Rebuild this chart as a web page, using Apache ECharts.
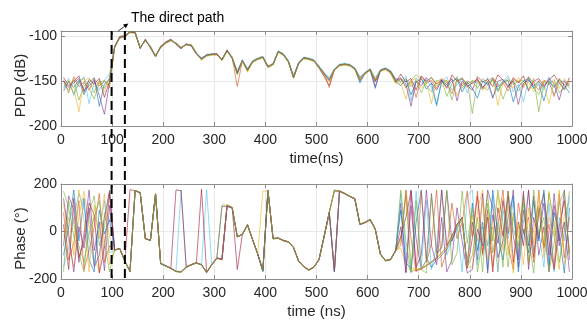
<!DOCTYPE html>
<html>
<head>
<meta charset="utf-8">
<script src="https://cdn.jsdelivr.net/npm/echarts@6/dist/echarts.min.js"></script>
<style>html,body{margin:0;padding:0;background:#fff}#c{width:587px;height:322px}</style>
</head>
<body>
<div id="c"></div>
<script>
// ---------- data ----------
const timeNs = [5,15,25,35,45,55,65,75,85,95,105,115,125,135,145,155,165,175,185,195,205,215,225,235,245,255,265,275,285,295,305,315,325,335,345,355,365,375,385,395,405,415,425,435,445,455,465,475,485,495,505,515,525,535,545,555,565,575,585,595,605,615,625,635,645,655,665,675,685,695,705,715,725,735,745,755,765,775,785,795,805,815,825,835,845,855,865,875,885,895,905,915,925,935,945,955,965,975,985,995];

// PDP (dB), one array per measured profile
const pdp1 = [-152,-160,-148,-171,-155,-150,-163,-149,-158,-146,
-111,-101,-100,-95,-96,-113,-104,-112,-123,-112,-107,-104,-108,-113,-109,-110,-119,-126,-122,-121,
-120,-127,-117,-125,-142,-128,-139,-129,-126,-124,-135,-132,-118,-121,-129,-147,-131,-125,-126,-128,
-136,-144,-150,-138,-133,-132,-133,-137,-150,-142,-138,-151,-139,-137,-141,-152,
-146,-158,-149,-143,-147,-155,-162,-150,-148,-167,-153,-145,-158,-151,-186,-149,-156,-160,-147,-152,-170,-155,-149,-161,-153,-146,-158,-165,-150,-154,-148,-163,-157,-151];
const pdp2 = [-158,-147,-166,-152,-145,-175,-151,-160,-149,-142,
-113,-102,-100,-96,-96,-112,-105,-111,-121,-113,-108,-105,-107,-112,-110,-109,-118,-124,-120,-119,
-121,-125,-116,-123,-138,-126,-136,-127,-124,-122,-133,-130,-116,-119,-127,-143,-129,-123,-124,-126,
-133,-140,-146,-136,-131,-130,-131,-135,-145,-140,-136,-146,-137,-135,-138,-147,
-150,-144,-172,-146,-152,-148,-157,-178,-151,-145,-160,-154,-147,-163,-149,-152,-158,-146,-168,-155,-150,-144,-162,-153,-173,-148,-156,-151,-160,-145,-165,-152,-149,-158];
const pdp3 = [-146,-155,-150,-144,-162,-148,-153,-147,-168,-150,
-112,-100,-99,-95,-95,-114,-103,-113,-122,-111,-106,-103,-109,-114,-108,-111,-120,-125,-121,-120,
-119,-126,-115,-124,-141,-127,-138,-128,-125,-123,-134,-131,-117,-120,-128,-146,-130,-124,-125,-127,
-135,-145,-155,-137,-132,-131,-132,-136,-149,-141,-137,-150,-138,-136,-140,-151,
-142,-151,-147,-160,-144,-150,-146,-153,-149,-158,-143,-150,-147,-155,-160,-145,-151,-148,-156,-143,-149,-157,-146,-152,-144,-161,-150,-147,-155,-149,-143,-152,-159,-146];
const pdp4 = [-161,-150,-157,-149,-165,-152,-146,-178,-153,-148,
-111,-101,-100,-95,-96,-113,-104,-112,-122,-112,-107,-104,-108,-113,-109,-110,-119,-125,-121,-120,
-120,-126,-116,-124,-140,-127,-137,-128,-125,-123,-134,-131,-117,-120,-128,-145,-130,-124,-125,-127,
-134,-142,-149,-137,-132,-131,-132,-136,-152,-141,-137,-158,-138,-136,-139,-150,
-155,-148,-165,-151,-147,-159,-152,-176,-149,-156,-150,-147,-162,-151,-158,-169,-150,-154,-147,-160,-151,-149,-173,-156,-150,-147,-158,-153,-172,-150,-157,-148,-155,-163];
const pdp5 = [-149,-163,-145,-156,-151,-160,-147,-155,-150,-157,
-112,-101,-100,-95,-96,-113,-104,-112,-122,-112,-107,-104,-108,-113,-109,-110,-119,-125,-121,-120,
-120,-126,-116,-124,-156,-127,-138,-128,-125,-123,-133,-131,-117,-120,-128,-146,-130,-124,-125,-127,
-134,-141,-157,-137,-132,-131,-132,-136,-148,-141,-137,-149,-138,-136,-140,-150,
-148,-156,-150,-168,-145,-152,-149,-158,-147,-151,-164,-148,-155,-150,-153,-147,-159,-150,-146,-156,-152,-161,-148,-150,-157,-145,-153,-160,-149,-151,-167,-147,-154,-150];
const pdp6 = [-153,-149,-158,-184,-150,-146,-156,-151,-162,-147,
-113,-102,-101,-96,-97,-112,-105,-111,-121,-113,-108,-105,-107,-112,-110,-109,-118,-127,-122,-121,
-121,-125,-117,-123,-139,-128,-140,-129,-126,-124,-134,-132,-118,-121,-129,-144,-131,-125,-126,-128,
-135,-143,-151,-138,-133,-132,-133,-137,-148,-142,-138,-147,-139,-137,-142,-153,
-152,-170,-149,-147,-158,-151,-175,-149,-156,-151,-148,-166,-152,-157,-150,-149,-160,-155,-148,-177,-152,-150,-158,-146,-155,-151,-162,-149,-153,-175,-150,-158,-147,-156];
const pdp7 = [-150,-157,-152,-147,-160,-155,-149,-166,-187,-151,
-112,-101,-100,-95,-96,-113,-104,-112,-122,-112,-107,-104,-108,-113,-109,-110,-119,-125,-121,-120,
-120,-126,-116,-124,-141,-127,-137,-128,-125,-123,-134,-131,-117,-120,-128,-145,-130,-124,-125,-127,
-134,-142,-148,-137,-132,-131,-132,-136,-146,-141,-137,-156,-138,-136,-139,-148,
-147,-153,-178,-150,-155,-146,-152,-160,-149,-154,-147,-172,-150,-156,-152,-148,-157,-151,-169,-150,-148,-155,-150,-176,-152,-149,-155,-150,-157,-147,-153,-171,-150,-155];
const pdp8 = [-156,-151,-164,-150,-147,-158,-170,-152,-149,-155,
-111,-100,-100,-95,-95,-113,-104,-112,-123,-111,-107,-104,-108,-113,-109,-110,-119,-126,-121,-120,
-120,-127,-116,-124,-143,-127,-138,-128,-125,-123,-134,-131,-117,-120,-128,-146,-130,-124,-125,-127,
-134,-141,-147,-137,-132,-131,-132,-136,-147,-141,-137,-148,-138,-136,-139,-149,
-151,-147,-156,-149,-163,-150,-146,-155,-152,-149,-171,-150,-146,-153,-150,-158,-147,-152,-149,-162,-151,-147,-154,-150,-149,-159,-147,-184,-152,-150,-156,-149,-160,-152];

// Phase (degrees), one array per measured profile
const phase1 = [120,-40,-150,60,170,30,-110,-170,80,-20,
-79,-71,-126,-169,173,164,-31,-38,160,-133,
-146,-156,-169,-171,-151,-141,-133,-141,-173,-141,
-113,-119,112,101,-24,-14,27,-36,-96,-166,
174,-31,-29,-39,-45,-68,-126,-149,-163,-151,
-119,-22,78,-164,171,161,149,139,31,39,
51,11,-96,-124,-119,-82,
-45,170,-150,-160,-158,-142,-128,-112,-92,-65,-25,25,55,-150,
-150,90,175,-60,20,-170,140,-100,60,-30,160,-140,10,110,-80,170,-20,-160,70,130];
const phase2 = [-60,150,90,-130,-10,175,-80,40,-165,110,
-77,-73,-124,-167,171,162,-29,-36,157,-137,
-144,-154,-167,-169,-149,-139,-131,-139,-171,-139,
-111,105,106,99,-21,-11,29,-34,-94,-164,
171,-29,-27,-37,-43,-66,-124,-147,-161,-149,
-117,-18,82,170,169,159,147,137,29,37,
49,9,-94,-122,-117,-79,
120,-170,175,-30,-160,-120,160,-90,-70,170,-40,30,60,-140,
40,-120,160,-175,70,-50,130,-10,175,-150,90,-60,150,-100,20,-170,110,-40,175,-120];
const phase3 = [170,100,-20,-90,-170,80,150,-60,20,175,
-78,-72,-125,-168,172,163,-30,-37,158,-134,
-145,-155,-168,-170,-150,-140,-132,-140,-172,-140,
-112,-117,109,100,-22,-12,28,-35,-95,-165,
172,-30,-28,-38,-44,-67,-125,-148,-162,-150,
-118,-20,80,175,170,160,148,138,30,38,
50,10,-95,-123,-118,-80,
-30,150,-170,-160,-155,-140,-127,-110,-90,-62,-22,28,57,-152,
-100,60,-170,120,-40,175,30,-150,80,-90,150,-20,-175,100,-60,160,40,-130,0,170];
const phase4 = [-150,-70,60,160,100,-30,-140,10,130,-90,
-79,-73,-126,-169,173,164,-31,-38,159,-136,
-146,-156,-169,175,-151,-141,-133,-141,175,-141,
-113,-119,110,101,-23,-13,27,-36,-96,-166,
173,-31,-29,-39,-45,-68,-126,-149,-163,-151,
-119,-21,79,-166,171,161,149,139,31,39,
51,11,-96,-124,-119,-81,
160,-90,-175,170,-150,130,-160,-60,175,-100,-40,20,-170,150,
175,-140,20,-60,150,-170,90,-30,130,-110,40,170,-80,0,-150,120,-170,60,-40,150];
const phase5 = [30,-160,140,-110,-40,120,70,-175,-70,160,
-77,-71,-124,176,172,163,-29,-36,157,-135,
-144,-154,175,172,-149,-139,-131,178,-171,-139,
-111,-117,107,99,-160,-11,29,-34,-94,-164,
171,-29,-27,-37,-43,-66,-124,-147,-161,-149,
-117,-19,81,-168,169,159,147,137,29,37,
49,9,-94,-122,-117,-79,
-20,60,170,-165,-158,-145,-130,-113,175,-60,-20,30,58,-155,
-30,150,-90,60,-170,100,-20,170,-130,40,-60,175,-110,80,160,-40,-160,20,130,-90];
const phase6 = [-100,20,175,-40,140,-120,-170,90,-10,50,
-78,-72,-125,-168,172,163,-30,-37,158,-136,
-145,-155,-168,-170,-150,-140,-132,-140,-172,-140,
-112,-118,110,100,-22,-12,28,-35,-95,-170,
175,-30,-28,-38,-44,-67,-125,-148,-162,-150,
-118,-20,80,-170,170,160,148,138,30,38,
50,10,-95,-123,-118,-80,
90,-130,-160,40,175,-110,-150,-120,-100,-75,-35,15,50,-148,
120,-80,40,-160,175,-20,-120,60,150,-170,10,-90,130,-40,175,-140,80,-10,-175,100];
const phase7 = [80,-120,-50,130,-160,-80,20,160,-130,-60,
-79,-71,-124,-169,173,164,-31,-38,160,-134,
-146,-156,-169,-171,-151,-141,-133,-141,-173,-141,
-113,-119,111,101,-23,-13,27,-36,-96,-166,
173,-31,-29,-39,-45,-68,-126,-149,-163,-151,
-119,-21,79,172,171,161,149,139,31,39,
51,11,-96,-124,-119,-81,
-60,175,-30,-170,170,-130,-50,175,-150,-80,120,-30,40,170,
-20,170,-100,90,-150,30,175,-60,-160,120,-10,60,-130,175,-70,30,-150,160,-110,60];
const phase8 = [-20,60,-100,175,50,-170,110,-30,160,-140,
-77,-73,-126,-167,171,162,-29,-36,157,-135,
-144,-154,-167,-169,-149,-139,-131,-139,-171,-139,
-111,-120,113,102,-21,-11,29,-34,-94,170,
171,-29,-27,-37,-43,-66,-124,-147,-161,-149,
-117,-23,77,-163,169,159,147,137,29,37,
49,9,-94,-122,-117,-79,
-70,-150,-165,-160,-157,-143,-129,-111,-93,-66,-27,23,54,-150,
70,-40,130,-120,-10,160,-80,110,-175,30,-140,100,-50,170,-110,60,-20,175,-140,-60];
const phase9 = [140,-10,-170,20,-70,100,-150,-100,60,170,
-78,-72,-125,-168,172,163,-30,-37,158,-134,
-145,-155,-168,-170,-150,-140,-132,-140,-172,-140,
-112,-117,108,100,-22,-12,28,-35,-95,-165,
172,-30,-28,-38,-44,-67,-125,-148,-162,-150,
-118,-20,80,-167,170,160,148,138,30,38,
50,10,-95,-123,-118,-80,
20,-175,110,-150,-100,175,-60,-140,60,-170,-120,100,-40,-175,
-160,10,-60,175,100,-110,-40,150,-20,-120,170,-160,60,-30,120,-100,160,-60,40,-170];
const phase10 = [-170,130,30,-60,-130,-10,60,130,-40,-170,
-79,-73,-126,-169,173,164,-31,-38,159,-133,
-146,-156,-169,-171,-151,-141,-133,-141,-173,-141,
-113,112,111,101,-23,-13,27,-36,-96,-166,
173,-31,-29,-39,-45,-68,-126,-149,-163,-151,
-119,-21,79,173,171,161,149,139,31,39,
51,11,-96,-124,-119,-81,
175,-40,-170,130,-160,-175,150,-100,-60,175,-140,-90,170,-50,
100,-170,-30,160,-90,40,-150,170,10,-60,120,-130,175,-10,60,-170,-50,120,170,-100];

// axis ranges / ticks
const timeMin = 0, timeMax = 1000, timeStep = 100;
const pdpMin = -200, pdpMax = -94, pdpStep = 50;
const phaseMin = -200, phaseMax = 200, phaseStep = 200;
// direct-path markers (ns) and annotation
const directPathStart = 99, directPathEnd = 125, arrowTailTime = 112;
const annotationText = 'The direct path';

// ---------- chart ----------
const matlabColors = ['#0072BD','#D95319','#EDB120','#7E2F8E','#77AC30','#4DBEEE','#A2142F'];
const FONT = 'Liberation Sans, Arial, sans-serif';
const TEXT = '#262626';
const AXIS = '#8c8c8c';
const GRIDC = '#e8e8e8';

const pdpAll = [pdp1,pdp2,pdp3,pdp4,pdp5,pdp6,pdp7,pdp8];
const phaseAll = [phase1,phase2,phase3,phase4,phase5,phase6,phase7,phase8,phase9,phase10];

// colour cycle arranged so the last-drawn profile is the green one (as in the reference)
function makeSeries(arrs, xi, yi) {
  const n = arrs.length;
  const offset = ((4 - (n - 1)) % 7 + 7) % 7;
  return arrs.map((arr, k) => ({
    type: 'line', xAxisIndex: xi, yAxisIndex: yi,
    data: timeNs.map((t, i) => [t, arr[i]]),
    symbol: 'none', silent: true, z: 2,
    lineStyle: { width: 0.6, color: matlabColors[(k + offset) % 7] }
  }));
}

function xAx(gridIndex, position, main, name) {
  return {
    type: 'value', gridIndex, position, min: timeMin, max: timeMax, interval: timeStep,
    axisLine: { show: true, onZero: false, lineStyle: { color: AXIS, width: 1 } },
    axisTick: { show: true, inside: true, length: 4, lineStyle: { color: AXIS } },
    axisLabel: { show: main, color: TEXT, fontFamily: FONT, fontSize: 14, margin: 7,
      formatter: v => String(v) },
    splitLine: { show: main, lineStyle: { color: GRIDC, width: 1 } },
    name: main ? name : '', nameLocation: 'middle', nameGap: 25, nameMoveOverlap: false,
    nameTextStyle: { color: TEXT, fontFamily: FONT, fontSize: 15 }
  };
}
function yAx(gridIndex, position, main, min, max, interval, name) {
  return {
    type: 'value', gridIndex, position, min, max, interval,
    axisLine: { show: true, onZero: false, lineStyle: { color: AXIS, width: 1 } },
    axisTick: { show: true, inside: true, length: 4, lineStyle: { color: AXIS } },
    axisLabel: { show: main, color: TEXT, fontFamily: FONT, fontSize: 14, margin: 4,
      formatter: v => (v % interval === 0 ? String(v) : '') },
    splitLine: { show: main, lineStyle: { color: GRIDC, width: 1 } },
    name: main ? name : '', nameLocation: 'middle', nameGap: 33, nameRotate: 90, nameMoveOverlap: false,
    nameTextStyle: { color: TEXT, fontFamily: FONT, fontSize: 15, padding: [0, 14, 0, 0] }
  };
}

const option = {
  animation: false,
  backgroundColor: '#ffffff',
  grid: [
    { left: 61, right: 15, top: 31, height: 95, outerBoundsMode: 'none', containLabel: false },
    { left: 61, right: 15, top: 184, height: 95, outerBoundsMode: 'none', containLabel: false }
  ],
  xAxis: [
    xAx(0, 'bottom', true, 'time(ns)'),
    xAx(0, 'top', false, ''),
    xAx(1, 'bottom', true, 'time (ns)'),
    xAx(1, 'top', false, '')
  ],
  yAxis: [
    yAx(0, 'left', true, pdpMin, pdpMax, pdpStep, 'PDP (dB)'),
    yAx(0, 'right', false, pdpMin, pdpMax, pdpStep, ''),
    yAx(1, 'left', true, phaseMin, phaseMax, phaseStep, 'Phase (°)'),
    yAx(1, 'right', false, phaseMin, phaseMax, phaseStep, '')
  ],
  series: makeSeries(pdpAll, 0, 0).concat(makeSeries(phaseAll, 2, 2))
};

const chart = echarts.init(document.getElementById('c'), null, { renderer: 'canvas', width: 587, height: 322 });
chart.setOption(option);

// dashed markers spanning both panels + annotation arrow
const xa = chart.convertToPixel({ xAxisIndex: 0 }, directPathStart);
const xb = chart.convertToPixel({ xAxisIndex: 0 }, directPathEnd);
const xt = chart.convertToPixel({ xAxisIndex: 0 }, arrowTailTime);
const yTop = chart.convertToPixel({ yAxisIndex: 0 }, pdpMax);
const yBot = chart.convertToPixel({ yAxisIndex: 2 }, phaseMin);
const ex = xb + 3.5, ey = yTop - 7.5;
const ang = Math.atan2(ey - yTop, ex - xt);
const hl = 5, hw = 2.3;
const bx = ex - hl * Math.cos(ang), by = ey - hl * Math.sin(ang);
const head = [[ex, ey],
  [bx + hw * Math.sin(ang), by - hw * Math.cos(ang)],
  [bx - hw * Math.sin(ang), by + hw * Math.cos(ang)]];

chart.setOption({
  graphic: [
    { type: 'line', z: 100, shape: { x1: xa, y1: yTop, x2: xa, y2: yBot },
      style: { stroke: '#000', lineWidth: 2, lineDash: [9, 5] } },
    { type: 'line', z: 100, shape: { x1: xb, y1: yTop, x2: xb, y2: yBot },
      style: { stroke: '#000', lineWidth: 2, lineDash: [9, 5] } },
    { type: 'line', z: 100, shape: { x1: xt, y1: yTop, x2: bx, y2: by },
      style: { stroke: '#000', lineWidth: 0.8 } },
    { type: 'polygon', z: 100, shape: { points: head }, style: { fill: '#000' } },
    { type: 'text', z: 100, x: xb + 6, y: yTop - 13,
      style: { text: annotationText, fill: '#000', font: '14px ' + FONT, verticalAlign: 'middle', align: 'left' } }
  ]
});
</script>
</body>
</html>
